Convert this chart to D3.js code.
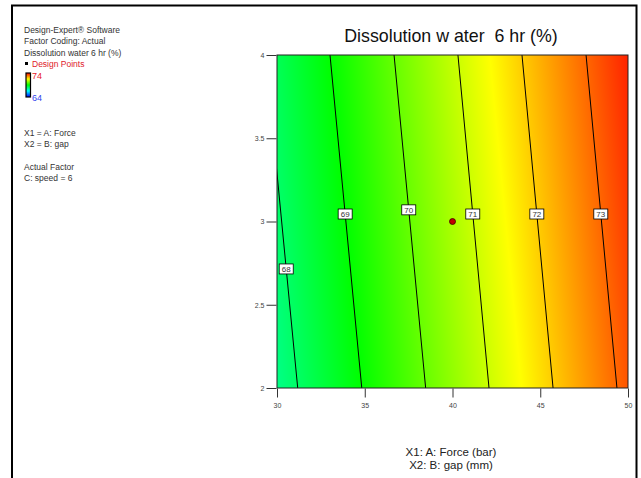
<!DOCTYPE html>
<html>
<head>
<meta charset="utf-8">
<script src="https://cdn.jsdelivr.net/npm/d3@7"></script>
<style>
  body { margin: 0; background: #fff; }
  svg { display: block; font-family: "Liberation Sans", Arial, sans-serif; }
</style>
</head>
<body>
<svg id="chart"></svg>
<script>
// grid of response values (A = force, B = gap)
let gridA = [30, 35, 40, 45, 50]
let gridB = [2, 3, 4]
let gridValues = [
    [67.68, 67.93, 68.18],
    [69.05, 69.30, 69.55],
    [70.42, 70.67, 70.92],
    [71.79, 72.04, 72.29],
    [73.16, 73.41, 73.66]
]

// contour lines: level, A where it meets B=2, A where it meets B=4, B of the label
let levels = [68, 69, 70, 71, 72, 73]
let levelBottomA = [31.18, 34.83, 38.47, 42.08, 45.73, 49.37]
let levelTopA = [29.35, 33.02, 36.67, 40.31, 43.96, 47.61]
let levelLabelB = [2.715, 3.045, 3.07, 3.045, 3.045, 3.045]

let designPoints = [{A: 40, B: 3}]

let xTicks = [30, 35, 40, 45, 50]
let yTicks = [2, 2.5, 3, 3.5, 4]

let legendLines = ['Design-Expert® Software', 'Factor Coding: Actual', 'Dissolution water  6 hr (%)']
let factorLines = ['X1 = A: Force', 'X2 = B: gap']
let actualLines = ['Actual Factor', 'C: speed = 6']

let width = 641
let height = 478
let plotLeft = 277, plotRight = 628, plotTop = 55, plotBottom = 388

let svg = d3.select('#chart').attr('width', width).attr('height', height)

let xScale = d3.scaleLinear().domain([30, 50]).range([plotLeft, plotRight])
let yScale = d3.scaleLinear().domain([2, 4]).range([plotBottom, plotTop])
let colorScale = d3.scaleLinear()
    .domain([64, 66.5, 69, 71.5, 74])
    .range(['#0000ff', '#00ffff', '#00ff00', '#ffff00', '#ff0000'])

// outer frame
svg.append('rect')
    .attr('x', 12).attr('y', 5.5)
    .attr('width', 624.5).attr('height', 480)
    .attr('fill', 'none').attr('stroke', '#000').attr('stroke-width', 2)

// value at any A,B from the grid (bilinear)
let valueAt = (a, b) => {
    let i = Math.min(gridA.length - 2, Math.max(0, d3.bisectRight(gridA, a) - 1))
    let j = Math.min(gridB.length - 2, Math.max(0, d3.bisectRight(gridB, b) - 1))
    let ta = (a - gridA[i]) / (gridA[i + 1] - gridA[i])
    let tb = (b - gridB[j]) / (gridB[j + 1] - gridB[j])
    let v0 = gridValues[i][j] * (1 - ta) + gridValues[i + 1][j] * ta
    let v1 = gridValues[i][j + 1] * (1 - ta) + gridValues[i + 1][j + 1] * ta
    return v0 * (1 - tb) + v1 * tb
}

// paint the surface into a canvas and put it in as an image
let pw = plotRight - plotLeft, ph = plotBottom - plotTop
let canvas = document.createElement('canvas')
canvas.width = pw
canvas.height = ph
let ctx = canvas.getContext('2d')
let img = ctx.createImageData(pw, ph)
for (let py = 0; py < ph; py++) {
    for (let px = 0; px < pw; px++) {
        let a = xScale.invert(plotLeft + px + 0.5)
        let b = yScale.invert(plotTop + py + 0.5)
        let c = d3.rgb(colorScale(valueAt(a, b)))
        let k = (py * pw + px) * 4
        img.data[k] = c.r
        img.data[k + 1] = c.g
        img.data[k + 2] = c.b
        img.data[k + 3] = 255
    }
}
ctx.putImageData(img, 0, 0)
svg.append('image')
    .attr('x', plotLeft).attr('y', plotTop)
    .attr('width', pw).attr('height', ph)
    .attr('preserveAspectRatio', 'none')
    .attr('href', canvas.toDataURL())

svg.append('clipPath').attr('id', 'plotClip')
    .append('rect').attr('x', plotLeft).attr('y', plotTop).attr('width', pw).attr('height', ph)

// contour lines
let contours = levels.map((lv, i) => ({level: lv, bottomA: levelBottomA[i], topA: levelTopA[i], labelB: levelLabelB[i]}))
svg.append('g').attr('clip-path', 'url(#plotClip)')
    .selectAll('line')
    .data(contours)
    .enter()
    .append('line')
    .attr('x1', (d) => xScale(d.bottomA))
    .attr('y1', yScale(2))
    .attr('x2', (d) => xScale(d.topA))
    .attr('y2', yScale(4))
    .attr('stroke', '#000')
    .attr('stroke-width', 1)

// contour labels
let labels = svg.append('g')
    .selectAll('g')
    .data(contours)
    .enter()
    .append('g')
    .attr('transform', (d) => {
        let a = d.bottomA + (d.topA - d.bottomA) * (d.labelB - 2) / 2
        return 'translate(' + xScale(a) + ',' + yScale(d.labelB) + ')'
    })
labels.append('rect')
    .attr('x', -7).attr('y', -5).attr('width', 14).attr('height', 10)
    .attr('fill', '#fff').attr('stroke', '#000').attr('stroke-width', 0.8)
labels.append('text')
    .attr('text-anchor', 'middle').attr('dy', '0.35em')
    .attr('font-size', 8).attr('fill', '#333')
    .text((d) => d.level)

// design points
svg.selectAll('circle.pt')
    .data(designPoints)
    .enter()
    .append('circle')
    .attr('class', 'pt')
    .attr('cx', (d) => xScale(d.A))
    .attr('cy', (d) => yScale(d.B))
    .attr('r', 3)
    .attr('fill', '#c00000')
    .attr('stroke', '#400000')
    .attr('stroke-width', 0.8)

// plot border
svg.append('rect')
    .attr('x', plotLeft).attr('y', plotTop).attr('width', pw).attr('height', ph)
    .attr('fill', 'none').attr('stroke', '#222').attr('stroke-width', 1)

// axes
let xAxis = d3.axisBottom(xScale).tickValues(xTicks).tickSize(9).tickPadding(6).tickFormat(d3.format('~g'))
let yAxis = d3.axisLeft(yScale).tickValues(yTicks).tickSize(10).tickPadding(2).tickFormat(d3.format('~g'))
svg.append('g').attr('transform', 'translate(0,' + (plotBottom + 0.5) + ')').call(xAxis)
svg.append('g').attr('transform', 'translate(' + (plotLeft - 0.5) + ',0)').call(yAxis)
svg.selectAll('.domain').remove()
svg.selectAll('.tick line').attr('stroke', '#333')
svg.selectAll('.tick text').attr('font-size', 7).attr('fill', '#444').attr('font-family', '"Liberation Sans", Arial, sans-serif')

// title
svg.append('text')
    .attr('x', 451).attr('y', 42)
    .attr('text-anchor', 'middle').attr('font-size', 17.8).attr('fill', '#111')
    .style('white-space', 'pre')
    .text('Dissolution w ater  6 hr (%)')

// axis titles
svg.append('text').attr('x', 451).attr('y', 456)
    .attr('text-anchor', 'middle').attr('font-size', 11.5).attr('fill', '#222')
    .text('X1: A: Force (bar)')
svg.append('text').attr('x', 451).attr('y', 469)
    .attr('text-anchor', 'middle').attr('font-size', 11.5).attr('fill', '#222')
    .text('X2: B: gap (mm)')

// legend text on the left
let leg = svg.append('g').attr('font-size', 8.5).attr('fill', '#333').style('white-space', 'pre')
legendLines.forEach((t, i) => {
    leg.append('text').attr('x', 24).attr('y', 33 + i * 11.3).text(t)
})
leg.append('rect').attr('x', 25).attr('y', 62).attr('width', 3).attr('height', 3).attr('fill', '#000')
leg.append('text').attr('x', 32).attr('y', 67).attr('fill', '#e0202a').text('Design Points')

let grad = svg.append('defs').append('linearGradient').attr('id', 'barGrad')
    .attr('x1', 0).attr('y1', 1).attr('x2', 0).attr('y2', 0)
colorScale.domain().forEach((v, i) => {
    grad.append('stop').attr('offset', (v - 64) / 10).attr('stop-color', colorScale(v))
})
leg.append('rect').attr('x', 26).attr('y', 73).attr('width', 4.5).attr('height', 24)
    .attr('fill', 'url(#barGrad)').attr('stroke', '#000').attr('stroke-width', 1.2)
leg.append('text').attr('x', 32).attr('y', 79).attr('fill', '#e8202a').attr('font-size', 9).text(colorScale.domain()[4])
leg.append('text').attr('x', 32).attr('y', 101).attr('fill', '#3344ee').attr('font-size', 9).text(colorScale.domain()[0])

factorLines.forEach((t, i) => {
    leg.append('text').attr('x', 24).attr('y', 136 + i * 11).text(t)
})
actualLines.forEach((t, i) => {
    leg.append('text').attr('x', 24).attr('y', 169.5 + i * 11).text(t)
})
</script>
</body>
</html>
